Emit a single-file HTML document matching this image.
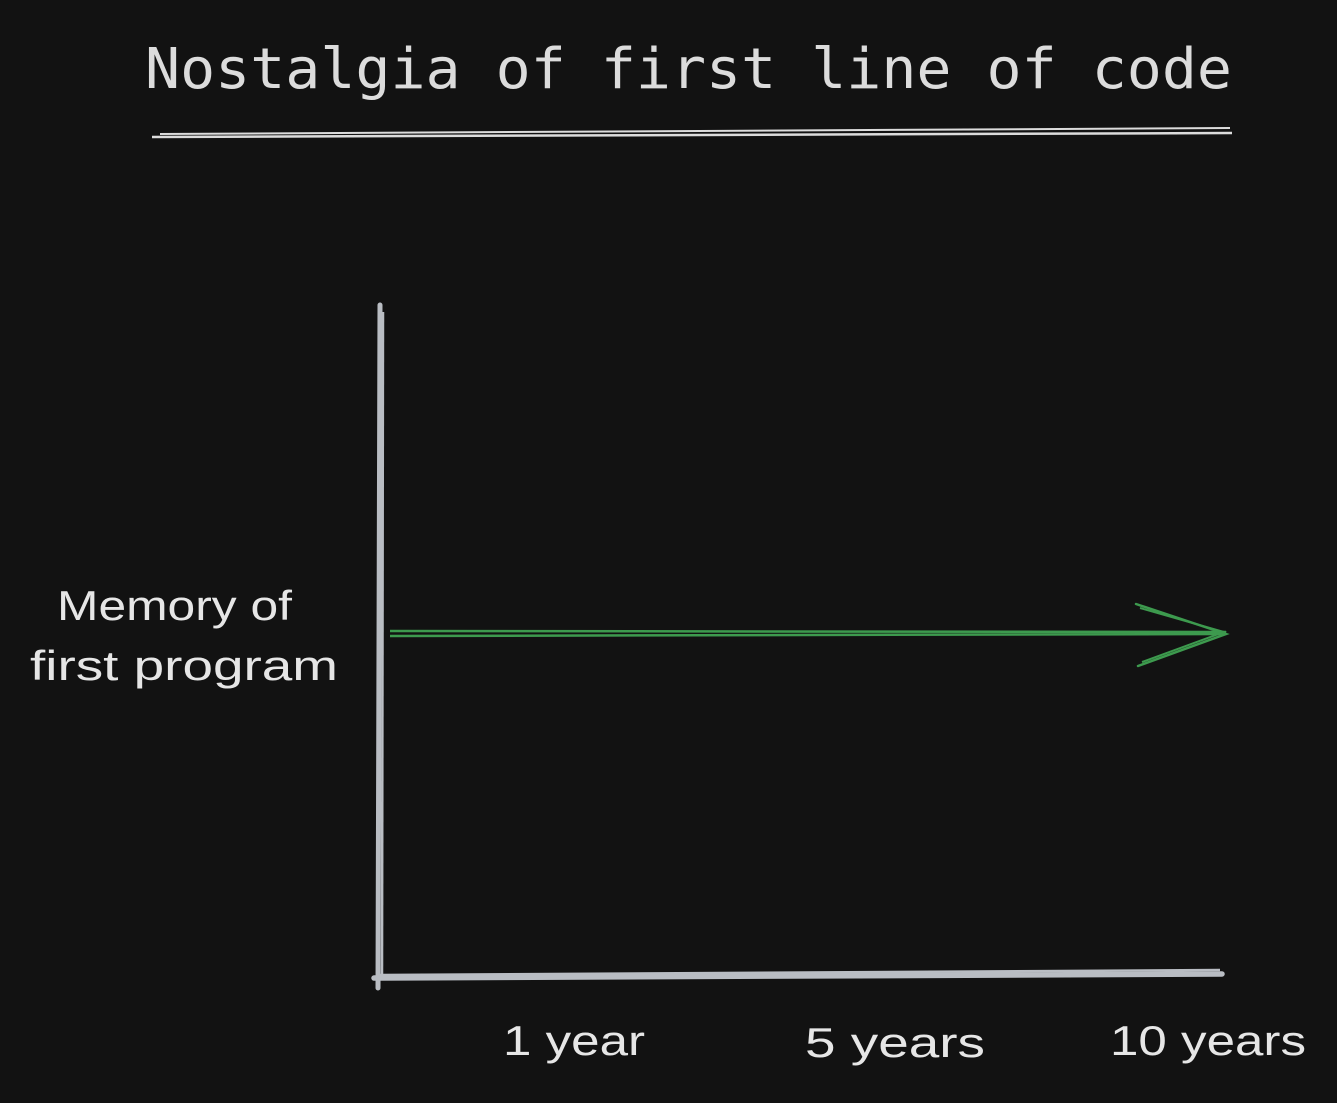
<!DOCTYPE html>
<html><head><style>
html,body{margin:0;padding:0;background:#121212;}
svg{display:block}
</style></head><body>
<svg width="1337" height="1103" viewBox="0 0 1337 1103" xmlns="http://www.w3.org/2000/svg">
<rect width="1337" height="1103" fill="#121212"/>
<text x="145" y="88" font-family="DejaVu Sans Mono, Liberation Mono, monospace" font-size="56" fill="#dcdcdc" textLength="1087" lengthAdjust="spacingAndGlyphs">Nostalgia of first line of code</text>
<path d="M152 137 L1232 133" stroke="#dcdcdc" stroke-width="2.5" fill="none"/>
<path d="M160 134 L1230 128" stroke="#dcdcdc" stroke-width="2" fill="none"/>
<path d="M380 305 L378 988" stroke="#b9bdc3" stroke-width="5" fill="none" stroke-linecap="round"/>
<path d="M383 312 L382 980" stroke="#b9bdc3" stroke-width="2.5" fill="none"/>
<path d="M374 978 L1222 974" stroke="#b9bdc3" stroke-width="5.5" fill="none" stroke-linecap="round"/>
<path d="M380 975 L1220 970" stroke="#b9bdc3" stroke-width="2.5" fill="none"/>
<path d="M390 631 L1226 632" stroke="#3d9a4e" stroke-width="2.5" fill="none"/>
<path d="M390 636 L1224 634" stroke="#3d9a4e" stroke-width="2.5" fill="none"/>
<path d="M1136 604 L1226 634 L1138 666" stroke="#3d9a4e" stroke-width="2.5" fill="none" stroke-linecap="round"/>
<path d="M1140 608 L1224 632 L1142 662" stroke="#3d9a4e" stroke-width="2" fill="none"/>
<g font-family="Liberation Sans, sans-serif" fill="#e6e6e6" font-size="42">
<text x="57" y="620" textLength="235" lengthAdjust="spacingAndGlyphs">Memory of</text>
<text x="30" y="680" textLength="308" lengthAdjust="spacingAndGlyphs">first program</text>
<text x="503" y="1055" textLength="142" lengthAdjust="spacingAndGlyphs">1 year</text>
<text x="805" y="1057" textLength="180" lengthAdjust="spacingAndGlyphs">5 years</text>
<text x="1110" y="1055" textLength="196" lengthAdjust="spacingAndGlyphs">10 years</text>
</g>
</svg>
</body></html>
